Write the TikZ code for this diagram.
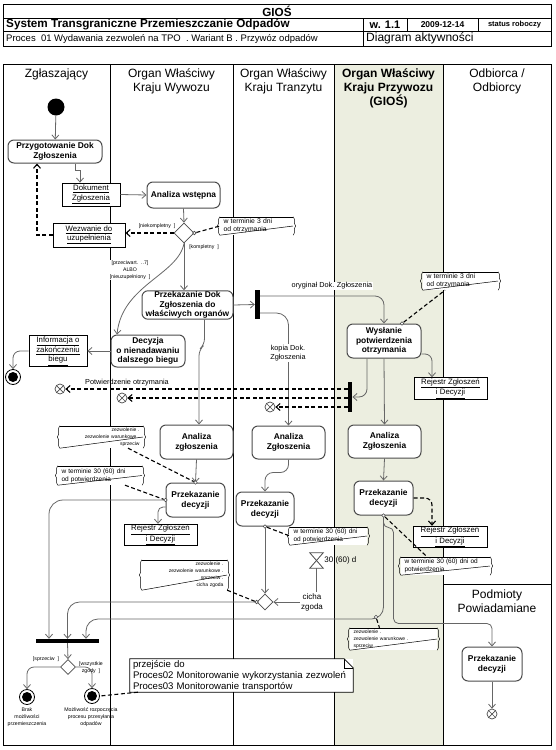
\documentclass[tikz,border=0pt]{standalone}
\usepackage{fontspec}
\setmainfont{Liberation Sans}
\usetikzlibrary{arrows.meta,shapes.geometric,decorations.pathreplacing,calc}
\newcommand\fsz[2]{\fontsize{#1}{#2}\selectfont}
\definecolor{lanefill}{RGB}{236,238,224}
\newcommand\notedeco[1]{%
  \draw[notebr] (#1.south west) -- (#1.north west);
  \draw[notebr] (#1.north east) -- (#1.south east);
  \draw[noteln] (#1.north west) -- (#1.north east);
  \draw[noteln] (#1.south west) -- ($(#1.south east)!0.5!(#1.north east)$);}
\begin{document}
\begin{tikzpicture}[x=1pt,y=-1pt,
  act/.style={draw=black!70, line width=1pt, rounded corners=6pt, fill=white, align=center, inner sep=0.5pt, font=\bfseries\fsz{8.4}{9.8}},
  obj/.style={draw=black, line width=0.8pt, fill=white, align=center, inner sep=1pt, font=\fsz{7.8}{9.2}},
  flow/.style={draw=black!60, line width=0.8pt, -{Straight Barb[length=4pt,width=7pt]}},
  dflow/.style={draw=black, line width=1.1pt, dash pattern=on 4pt off 2.5pt, -{Straight Barb[length=4pt,width=7pt]}},
  nlink/.style={draw=black, line width=1.1pt, dash pattern=on 4pt off 2.5pt},
  plain/.style={draw=black!60, line width=0.8pt},
  pin/.style={circle, draw=black!70, fill=white, inner sep=0pt, minimum size=3.5pt, line width=0.6pt},
  bar/.style={fill=black, inner sep=0pt},
  dia/.style={diamond, aspect=1, draw=black!70, fill=white, inner sep=0pt, minimum size=20pt, line width=0.8pt},
  start/.style={circle, fill=black, minimum size=17pt, inner sep=0pt},
  fin/.style={circle, draw=black, fill=white, minimum size=15pt, inner sep=0pt, line width=0.8pt,
     path picture={\fill[black] (path picture bounding box.center) circle (5pt);}},
  ffin/.style={circle, draw=black!70, fill=white, minimum size=10pt, inner sep=0pt, line width=0.7pt,
     path picture={\draw[black!70, line width=0.7pt] (path picture bounding box.north west) -- (path picture bounding box.south east) (path picture bounding box.south west) -- (path picture bounding box.north east);}},
  ntxt/.style={fill=white, inner xsep=3.5pt, inner ysep=1pt, align=left, font=\fsz{6.8}{8}},
  ntiny/.style={fill=white, inner xsep=3.5pt, inner ysep=1pt, font=\fsz{5}{7}},
  notebr/.style={decorate, decoration={brace, amplitude=2.5pt}, line width=0.5pt},
  noteln/.style={line width=0.5pt},
  lbl/.style={font=\fsz{7.3}{8.5}, inner sep=1pt, align=center},
  tiny/.style={font=\fsz{5.2}{7}, inner sep=0.5pt, align=center},
  lh/.style={font=\fsz{12}{14}, align=center, inner sep=0pt}
]
\useasboundingbox (0,0) rectangle (555,750);
\fill[white] (0,0) rectangle (555,750);

% ---------- header table
\draw[line width=0.9pt] (3,4) rectangle (551,46);
\draw[line width=0.8pt] (3,18) -- (551,18) (3,31) -- (551,31)
  (363,18) -- (363,46) (407,18) -- (407,31) (478,18) -- (478,31);
\node[font=\bfseries\fsz{11.7}{13}, inner sep=0pt] (h1) at (277,11) {GIOŚ};
\node[anchor=west, font=\bfseries\fsz{11.7}{13}, inner sep=0pt] (h2) at (6,24.5) {System Transgraniczne Przemieszczanie Odpadów};
\node[font=\bfseries\fsz{11}{13}, inner sep=0pt] (h3) at (385,24.5) {w. 1.1};
\node[font=\bfseries\fsz{8.5}{10}, inner sep=0pt] (h4) at (442.5,24.5) {2009-12-14};
\node[font=\bfseries\fsz{7.5}{9}, inner sep=0pt] (h5) at (514.5,24.5) {status roboczy};
\node[anchor=west, font=\fsz{9.5}{11}, inner sep=0pt] (h6) at (6,38.5) {Proces~~01 Wydawania zezwoleń na TPO~~. Wariant B . Przywóz odpadów};
\node[anchor=west, font=\fsz{12}{14}, inner sep=0pt] (h7) at (366,38.5) {Diagram aktywności};

% ---------- lanes
\fill[lanefill] (334,64) rectangle (443,745);
\draw[line width=0.9pt] (3,64) rectangle (551,745);
\draw[line width=0.8pt] (110,64) -- (110,745) (233,64) -- (233,745) (334,64) -- (334,745)
  (443,64) -- (443,745) (443,584) -- (551,584);
\node[lh] (l1) at (56.5,74) {Zgłaszający};
\node[lh] (l2) at (171.5,81) {Organ Właściwy\\Kraju Wywozu};
\node[lh] (l3) at (283.5,81) {Organ Właściwy\\Kraju Tranzytu};
\node[lh, font=\bfseries\fsz{12}{14}] (l4) at (388.5,88) {Organ Właściwy\\Kraju Przywozu\\(GIOŚ)};
\node[lh] (l5) at (497,81) {Odbiorca /\\Odbiorcy};
\node[lh] (l6) at (497,601) {Podmioty\\Powiadamiane};

% ---------- nodes
\node[start] (s0) at (56,107) {};
\node[act, minimum width=94pt, minimum height=23pt] (prep) at (55,151.5) {Przygotowanie Dok\\Zgłoszenia};
\node[obj, minimum width=58pt, minimum height=23pt] (dok) at (91,194.5) {\underline{Dokument}\\\underline{Zgłoszenia}};
\node[act, minimum width=73pt, minimum height=26pt] (anal) at (183.5,195) {Analiza wstępna};
\node[dia] (d1) at (184,233) {};
\node[obj, minimum width=72pt, minimum height=24pt] (wez) at (89,235) {\underline{Wezwanie do}\\\underline{uzupełnienia}};
\node[act, minimum width=91pt, minimum height=28pt] (pdok) at (187.5,305) {Przekazanie Dok\\Zgłoszenia do\\właściwych organów};
\node[bar, minimum width=5pt, minimum height=29pt] (fork1) at (257.5,304.5) {};
\node[act, minimum width=74pt, minimum height=32pt] (dec) at (148,351) {Decyzja\\o nienadawaniu\\dalszego biegu};
\node[obj, minimum width=58pt, minimum height=30pt] (info) at (58,351) {\underline{Informacja o}\\\underline{zakończeniu}\\\underline{biegu}};
\node[fin] (e1) at (13,377) {};
\node[act, minimum width=74pt, minimum height=34pt] (wysl) at (384,341) {Wysłanie\\potwierdzenia\\otrzymania};
\node[obj, minimum width=73pt, minimum height=21pt] (rej1) at (450.5,388.5) {\underline{Rejestr Zgłoszeń}\\\underline{i Decyzji}};
\node[bar, minimum width=4.5pt, minimum height=30pt] (join1) at (350,397) {};
\node[ffin] (x1) at (60,389) {};
\node[ffin] (x2) at (122,398) {};
\node[ffin] (x3) at (270,407) {};
\node[act, minimum width=73pt, minimum height=34pt] (aW) at (196.5,442) {Analiza\\zgłoszenia};
\node[act, minimum width=73pt, minimum height=33pt] (aT) at (288.5,442.5) {Analiza\\Zgłoszenia};
\node[act, minimum width=73pt, minimum height=33pt] (aP) at (384.5,441.5) {Analiza\\Zgłoszenia};
\node[act, minimum width=59pt, minimum height=34pt] (pW) at (195.5,500) {Przekazanie\\decyzji};
\node[obj, minimum width=73pt, minimum height=20pt] (rejW) at (160.5,535) {\underline{Rejestr Zgłoszeń}\\\underline{i Decyzji}};
\node[act, minimum width=58pt, minimum height=34pt] (pT) at (265,509) {Przekazanie\\decyzji};
\node[act, minimum width=59pt, minimum height=34pt] (pP) at (383.5,498) {Przekazanie\\decyzji};
\node[obj, minimum width=74pt, minimum height=20pt] (rej2) at (450,537) {\underline{Rejestr Zgłoszeń}\\\underline{i Decyzji}};
\node[inner sep=0pt, minimum width=13pt, minimum height=15pt] (hg) at (316.5,560.5) {};
\draw[black!70, line width=0.8pt] (hg.north west) -- (hg.north east) -- (hg.south west) -- (hg.south east) -- cycle;
\node[lbl, anchor=west, font=\fsz{8}{9}] (hgl) at (hg.east) {30 (60) d};
\node[dia, minimum size=16pt] (d2) at (265,602) {};
\node[lbl, font=\fsz{8}{10}, fill=white] (cz) at (312,602) {cicha\\zgoda};
\node[bar, minimum width=63pt, minimum height=4pt] (join2) at (67.5,641) {};
\node[dia, minimum size=15pt] (d3) at (68,667) {};
\node[fin] (e2) at (27,697) {};
\node[fin] (e3) at (92,696) {};
\node[act, minimum width=60pt, minimum height=34pt] (pPod) at (492,664) {Przekazanie\\decyzji};
\node[ffin] (x4) at (492,714) {};

% big note
\node[fill=white, minimum width=223pt, minimum height=33pt, text width=217pt, align=left, inner xsep=3pt, inner ysep=0.5pt, font=\fsz{9.6}{11}] (bn) at (241.5,675.5) {przejście do\\Proces02 Monitorowanie wykorzystania zezwoleń\\Proces03 Monitorowanie transportów};
\draw[line width=0.7pt] (bn.south west) -- (bn.north west) -- ([xshift=-9pt]bn.north east) -- ([yshift=-9pt]bn.north east) -- (bn.south east) -- cycle;
\draw[line width=0.6pt] ([xshift=-9pt]bn.north east) -- ([xshift=-9pt,yshift=-9pt]bn.north east) -- ([yshift=-9pt]bn.north east);

% notes
\node[ntxt, text width=66pt, minimum height=18pt] (n1) at (256.5,226) {w terminie 3 dni\\od otrzymania};
\node[ntxt, text width=68pt, minimum height=18pt] (n2) at (460.5,281) {w terminie 3 dni\\od otrzymania};
\node[ntiny, text width=76pt, minimum height=22pt, align=right] (n3) at (101.5,437) {zezwolenie .\\zezwolenie warunkowe .\\sprzeciw};
\node[ntxt, font=\fsz{6.5}{8}, text width=77pt, minimum height=19pt] (n4) at (100,475.5) {w terminie 30 (60) dni\\od potwierdzenia};
\node[ntxt, font=\fsz{6.5}{8}, text width=70pt, minimum height=18pt] (n5) at (328.5,536) {w terminie 30 (60) dni\\od potwierdzenia};
\node[ntiny, text width=78pt, minimum height=30pt, align=right] (n6) at (184.5,575) {zezwolenie .\\zezwolenie warunkowe .\\sprzeciw .\\cicha zgoda};
\node[ntxt, font=\fsz{6.5}{8}, text width=82pt, minimum height=18pt] (n7) at (445.5,566) {w terminie 30 (60) dni od\\potwierdzenia};
\node[ntiny, text width=80pt, minimum height=22pt, align=left] (n8) at (393.5,639) {zezwolenie .\\zezwolenie warunkowe .\\sprzeciw};
\notedeco{n1}\notedeco{n2}\notedeco{n3}\notedeco{n4}
\notedeco{n5}\notedeco{n6}\notedeco{n7}\notedeco{n8}

% ---------- control flows
\coordinate (y619) at (0,619);
\draw[flow] (s0) -- (prep);
\draw[flow] ([xshift=20pt]prep.south) -- ++(0,7) -- ++(5,0) -- ([xshift=-11pt]dok.north);
\draw[flow] (dok.east) -- (anal.west);
\draw[flow] (anal.south) -- (d1.north);
\draw[dflow] (d1.west) -- (d1.west -| wez.east);
\draw[dflow] (wez.west) -| ([xshift=-18pt]prep.south);
\draw[flow] (d1.south) -- (d1.south |- pdok.north);
\draw[flow] (d1.south) .. controls (178,275) and (122,285) .. ([xshift=-31pt]dec.north);
\draw[flow] (pdok.east) -- (fork1.west);
\draw[flow] (dec.west) -- (info.east);
\draw[flow, rounded corners=7pt] (info.west) -| (e1.north);
\draw[flow, rounded corners=6pt] ([xshift=17pt]pdok.south) -- ++(0,25) -- ++(-5.5,5) -- ([xshift=2.5pt]aW.north);
\draw[flow, rounded corners=9pt] ([yshift=8.5pt]fork1.east) -| (wysl.north);
\draw[flow, rounded corners=12pt] ([yshift=-8.5pt]fork1.east) -| (aT.north);
\draw[flow, rounded corners=7pt] ([yshift=-13pt]wysl.east) -| ([xshift=-18.5pt]rej1.north);
\draw[flow, rounded corners=8pt] ([xshift=-17pt]wysl.south) |- (join1.east);
\draw[dflow] ([yshift=8pt]join1.west) -- (x1);
\draw[dflow] ([yshift=-1pt]join1.west) -- (x2);
\draw[dflow] ([yshift=-10pt]join1.west) -- (x3);
\draw[flow] (wysl.south) -- (aP.north);
\draw[flow] (aW.south) -- (pW.north);
\draw[flow, rounded corners=8pt] (aT.south) -- ++(0,13) -| (pT.north);
\draw[flow] (aP.south) -- (pP.north);
\draw[flow, rounded corners=5pt] ([yshift=-7pt]pW.west) -| ([xshift=-2.5pt]rejW.north);
\draw[flow, rounded corners=14pt] (pW.west) -| ([xshift=-18.5pt]join2.north);
\draw[flow] (pT.south) -- (d2.north);
\draw[plain] (hg.south) -- (hg.south |- cz.north);
\draw[flow] (cz.west) -- (d2.east);
\draw[flow, rounded corners=12pt] (d2.west) -| (join2.north);
\draw[flow, rounded corners=12pt] (pP.south) -- (pP.south |- y619) -| ([xshift=18.5pt]join2.north);
\draw[flow, rounded corners=5pt] (pP.south) -- ++(0,12) -- ++(10,0) -- ++(0,96) -| (pPod.north);
\draw[flow] (pPod.south) -- (x4);
\draw[flow] (join2.south) -- (d3.north);
\draw[flow, rounded corners=7pt] (d3.west) -| (e2.north);
\draw[flow, rounded corners=7pt] (d3.east) -| (e3.north);
\draw[dflow, rounded corners=7pt] (pP.east) -| ([xshift=-18pt]rej2.north);
\draw[nlink] ([xshift=8pt]bn.south west) -- (e3.east);

% ---------- note links with pins
\node[pin] (p1) at (d1.east) {};
\draw[nlink] (p1) -- (n1.west);
\node[pin] (p2) at ([xshift=18pt]wysl.north) {};
\draw[nlink] (p2) -- ([xshift=-15.5pt]n2.south);
\node[pin] (p3) at (pW.north) {};
\draw[nlink] ([xshift=26.5pt]n3.south) -- (p3);
\node[pin] (p4) at (pW.west) {};
\draw[nlink] ([xshift=25pt]n4.south) -- (p4);
\node[pin] (p5) at (pT.south) {};
\draw[nlink] (p5) -- (n5.west);
\node[pin] (p6) at (d2.west) {};
\draw[nlink] (n6.south east) -- (p6);
\node[pin] (p7) at (pP.south) {};
\draw[nlink] (p7) -- ([xshift=-18.5pt]n7.north);
\coordinate (c8) at (376,617);
\node[pin] (p8) at (c8) {};
\draw[nlink] (p8) -- ([xshift=-14pt]n8.north);

% ---------- labels
\node[tiny] (lb1) at (157,226) {{[}niekompletny~~{]}};
\node[tiny] (lb2) at (204,247) {{[}kompletny~~{]}};
\node[tiny, fill=white] (lb3) at (130,270) {{[}przeciwart.~~..7{]}\\ALBO\\{[}nieuzupełniony~~{]}};
\node[lbl, fill=white] (lb4) at (332,286) {oryginał Dok. Zgłoszenia};
\node[lbl, fill=white] (lb5) at (288,353) {kopia Dok.\\Zgłoszenia};
\node[lbl] (lb6) at (127,383) {Potwierdzenie otrzymania};
\node[tiny] (lb7) at (46,659) {{[}sprzeciw~~{]}};
\node[tiny] (lb8) at (91,668) {{[}wszystkie\\zgody~~{]}};
\node[tiny] (lb9) at (27,717) {Brak\\możliwości\\przemieszczenia};
\node[tiny] (lb10) at (91,717) {Możliwość rozpoczęcia\\procesu przesyłania\\odpadów};
\end{tikzpicture}
\end{document}
